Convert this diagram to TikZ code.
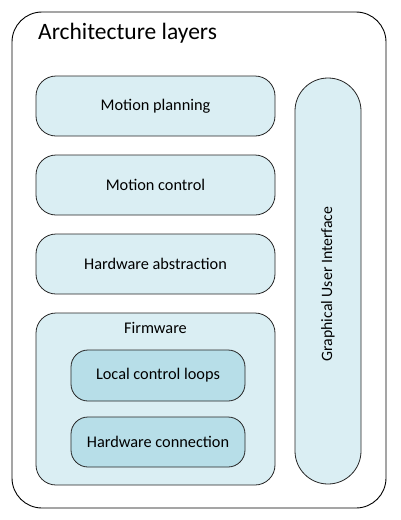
\documentclass[tikz,border=0pt]{standalone}
\usepackage{fontspec}
\setmainfont{Carlito}
\definecolor{lightfill}{HTML}{DAEEF3}
\definecolor{darkfill}{HTML}{B7DEE8}
\definecolor{edge}{HTML}{262626}
\begin{document}
\begin{tikzpicture}[x=1pt,y=-1pt,
  outerbox/.style={draw=black,line width=0.9pt,fill=white,rounded corners=30pt},
  layerbox/.style={draw=edge,line width=0.8pt,fill=lightfill,rounded corners=20pt,
    minimum width=239pt,minimum height=60pt,inner sep=0pt,font=\fontsize{16.3}{19}\selectfont},
  innerbox/.style={draw=edge,line width=0.8pt,fill=darkfill,rounded corners=17pt,
    minimum width=174pt,minimum height=51pt,inner sep=0pt,font=\fontsize{16.3}{19}\selectfont},
  txt/.style={inner sep=0pt,font=\fontsize{16.3}{19}\selectfont}]
\useasboundingbox (0,0) rectangle (400,520);
\fill[white] (0,0) rectangle (400,520);
\draw[outerbox] (12,12) rectangle (386,508);
\node[anchor=west,inner sep=0pt,font=\fontsize{23.5}{28}\selectfont] (title) at (38,33) {Architecture layers};
\node[layerbox] (mp) at (155.5,106) {Motion planning};
\node[layerbox] (mc) at (155.5,185) {Motion control};
\node[layerbox] (ha) at (155.5,264) {Hardware abstraction};
\node[layerbox,minimum height=172pt] (fw) at (155.5,399) {};
\node[txt] (fwl) at (155.5,328) {Firmware};
\node[innerbox] (lcl) at (158,375.5) {Local control loops};
\node[innerbox,minimum height=50pt] (hc) at (158,442) {Hardware connection};
\node[draw=edge,line width=0.8pt,fill=lightfill,rounded corners=33pt,
  minimum width=66pt,minimum height=406pt,inner sep=0pt] (gui) at (328,281) {};
\node[inner sep=0pt,font=\fontsize{15.8}{19}\selectfont,rotate=90] (guil) at (328,284) {Graphical User Interface};
\end{tikzpicture}
\end{document}
